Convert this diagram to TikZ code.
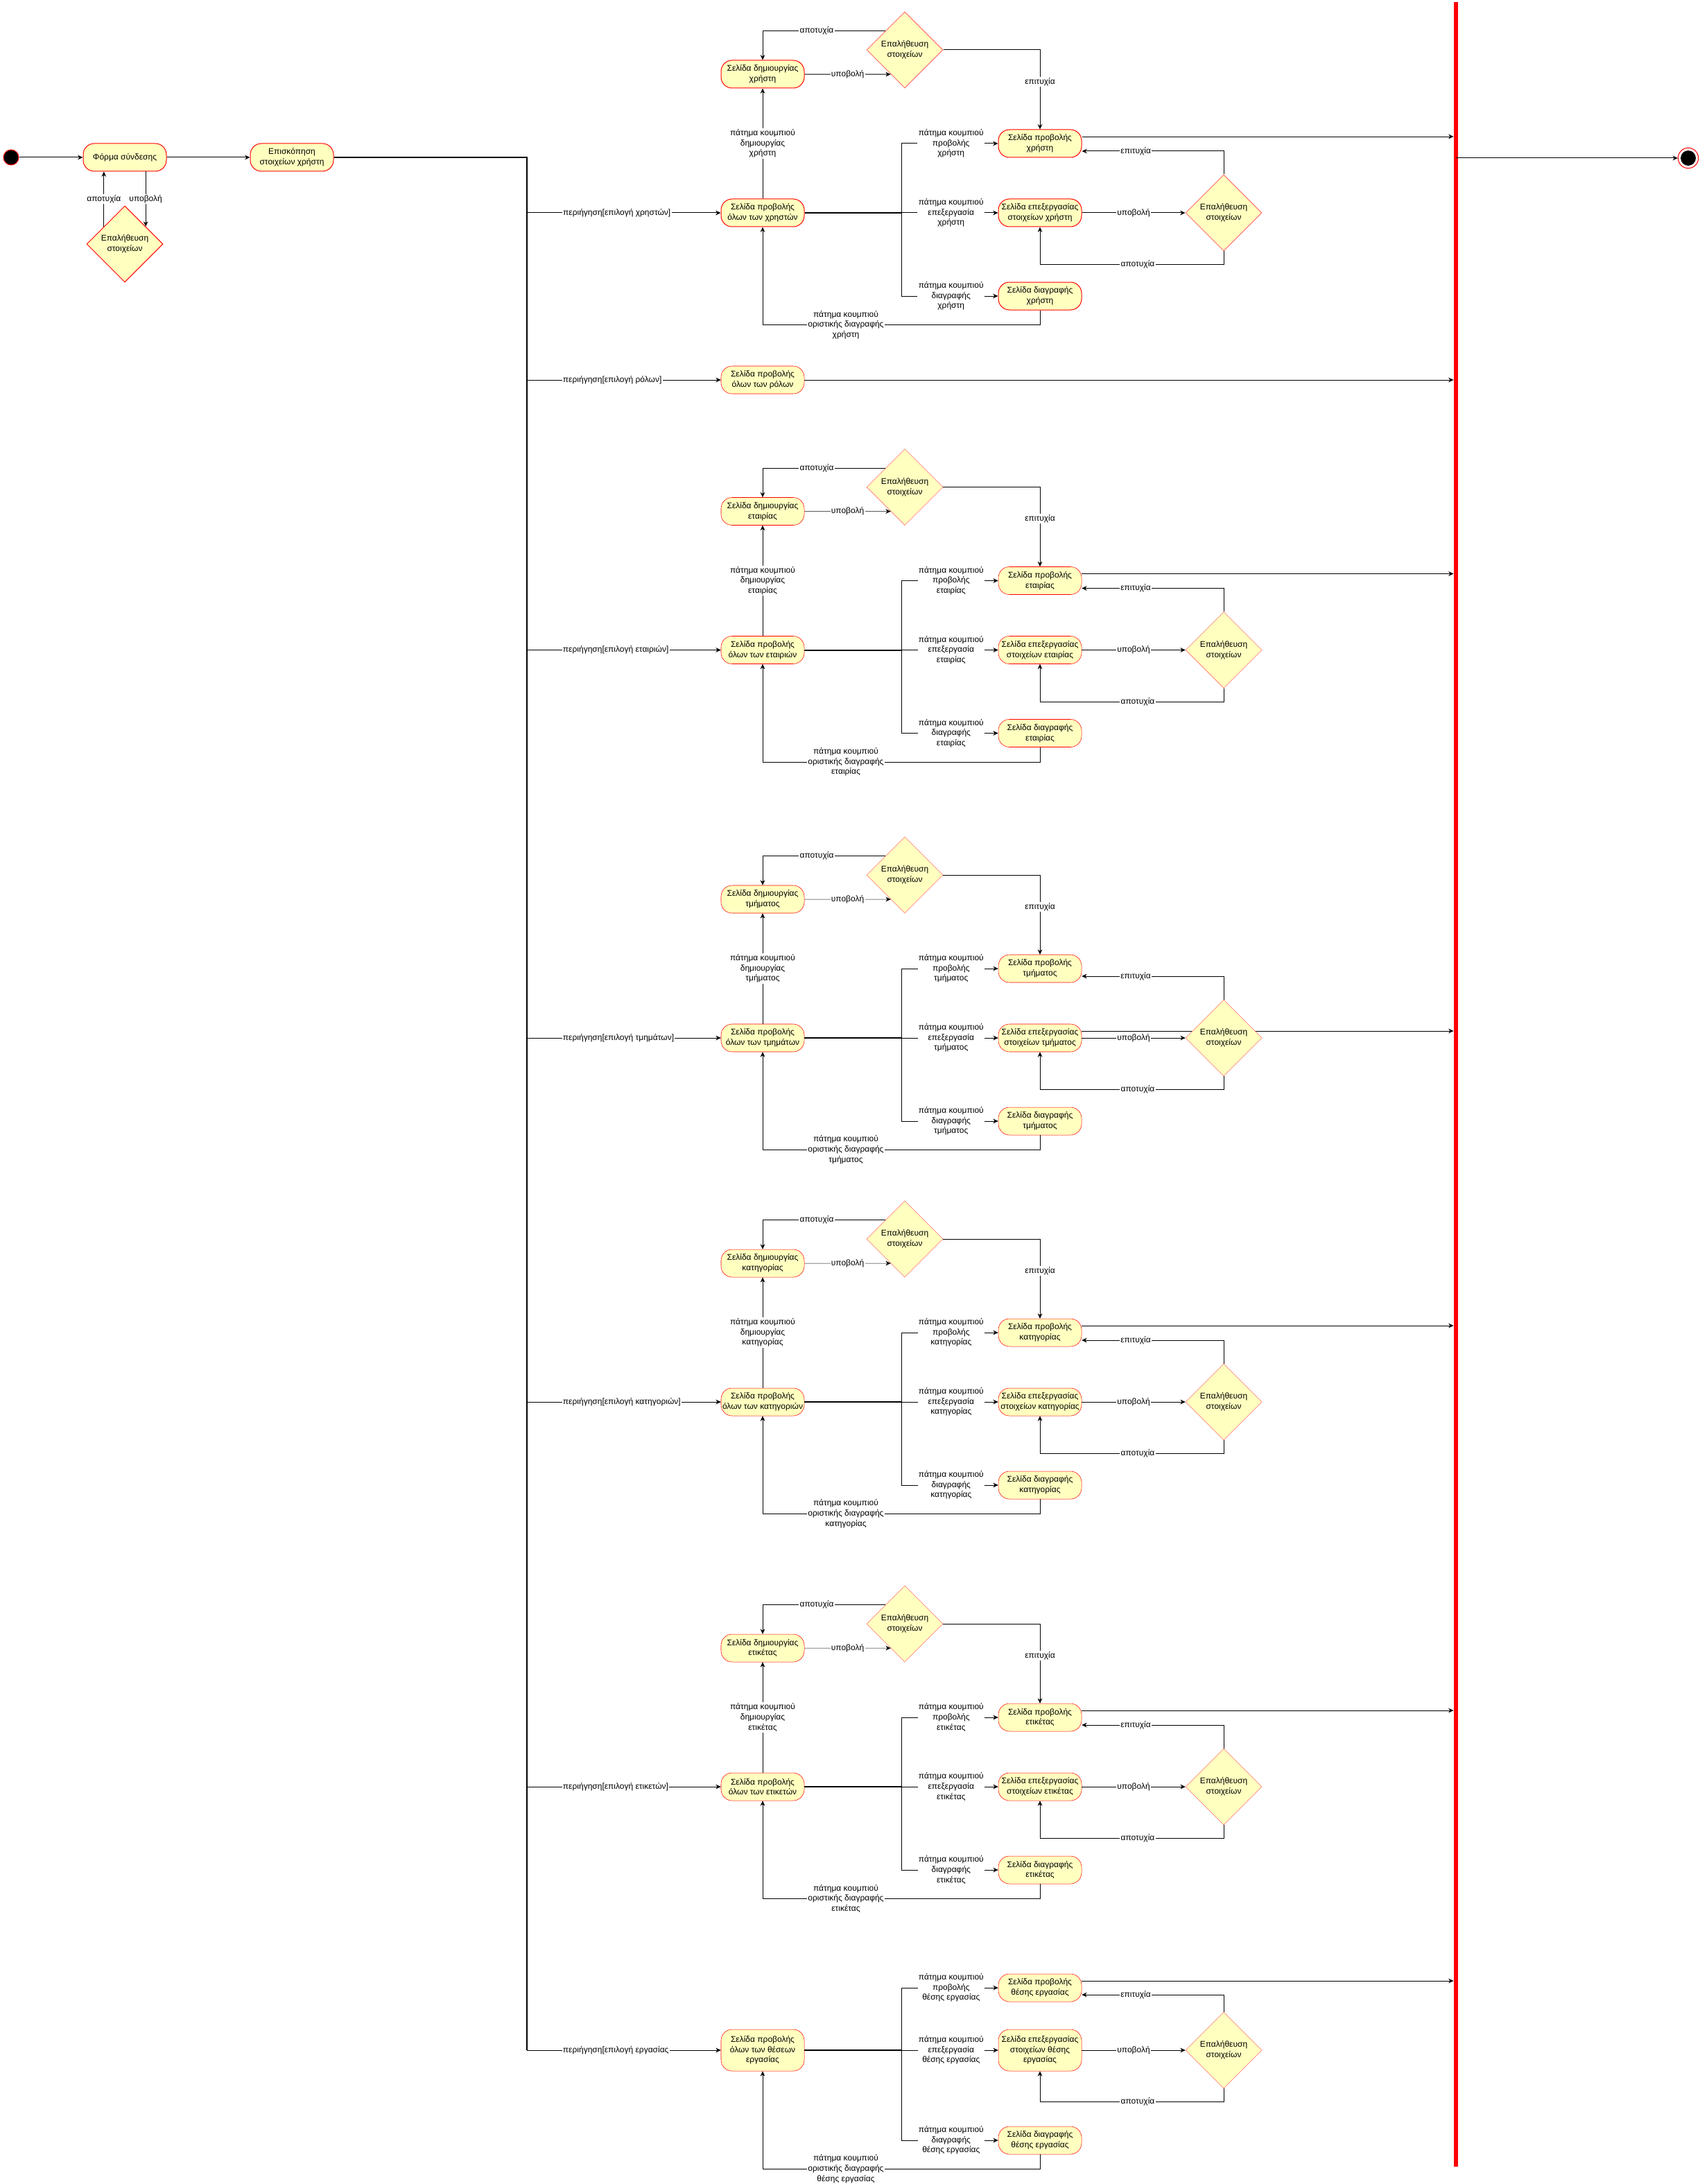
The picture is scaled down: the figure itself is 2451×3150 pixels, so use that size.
\documentclass[tikz,border=0pt]{standalone}
\usepackage{fontspec}
\setmainfont{Liberation Sans}
\usetikzlibrary{positioning,shapes.geometric,arrows.meta,backgrounds}

\definecolor{pagefill}{HTML}{FFFFC0}
\definecolor{verifyline}{HTML}{FF6F6F}

\tikzset{
  pagebox/.style={draw=red, fill=pagefill, rounded corners=12pt, minimum width=90pt,
    minimum height=30pt, inner sep=1pt, align=center},
  tall/.style={minimum height=45pt},
  verify/.style={diamond, aspect=1, draw=verifyline, fill=pagefill, minimum size=82.5pt,
    inner sep=0pt, align=center},
  edgelbl/.style={fill=white, inner sep=1pt, align=center},
  syncbar/.style={fill=red, minimum width=4.5pt, minimum height=2341.5pt, inner sep=0pt},
  trunkline/.style={line width=1.5pt},
}

\begin{document}
\begin{tikzpicture}[x=0.75pt, y=-0.75pt, line width=0.75pt, font=\fontsize{9}{11}\selectfont,
    >={Stealth[length=5.5pt,width=5pt]}]
  \useasboundingbox (0,0) rectangle (2451,3150);

  % login
  \node[circle, fill=black, draw=red, minimum size=16.5pt, inner sep=0pt] (start) at (16,227) {};
  \node[pagebox] (login) at (180,227) {Φόρμα σύνδεσης};
  \node[verify, draw=red] (logincheck) at (180,352) {Επαλήθευση\\στοιχείων};
  \node[pagebox] (overview) at (421,227) {Επισκόπηση\\στοιχείων χρήστη};
  \coordinate (trunk) at (760,227);

  \draw[->] (start) -- (login);
  \draw[->] (logincheck.40 |- login.south) -- node[edgelbl]{υποβολή} (logincheck.40);
  \draw[->] (logincheck.140) -- node[edgelbl]{αποτυχία} (logincheck.140 |- login.south);
  \draw[->] (login) -- (overview);

  % end
  \node[syncbar] (bar) at (2100,1564) {};
  \node[circle, draw=red, fill=white, minimum size=22pt, inner sep=0pt,
    path picture={\fill[black] (path picture bounding box.center) circle (8.2pt);}] (finish) at (2435,228) {};
  \draw[->] (bar.center |- finish) -- (finish);

  % sections with create page
  \foreach \s/\A/\X/\P/\B in {u/307/χρήστη/χρηστών/view, c/937.5/εταιρίας/εταιριών/view,
      d/1497/τμήματος/τμημάτων/edit, k/2022/κατηγορίας/κατηγοριών/view,
      t/2577/ετικέτας/ετικετών/view}{
    \node[pagebox] (\s-all) at (1100,\A) {Σελίδα προβολής\\όλων των \P};
    \node[pagebox] (\s-create) at (1100,{\A-200}) {Σελίδα δημιουργίας\\\X};
    \node[verify] (\s-check) at (1305,{\A-235}) {Επαλήθευση\\στοιχείων};
    \coordinate (\s-fork) at (1300,\A);
    \node[pagebox] (\s-view) at (1500,{\A-100}) {Σελίδα προβολής\\\X};
    \node[pagebox] (\s-edit) at (1500,\A) {Σελίδα επεξεργασίας\\στοιχείων \X};
    \node[pagebox] (\s-del) at (1500,{\A+120}) {Σελίδα διαγραφής\\\X};
    \node[verify] (\s-editcheck) at (1765,\A) {Επαλήθευση\\στοιχείων};

    \draw[->] (overview) -- (trunk) |- node[edgelbl, pos=0.59, anchor=west]{περιήγηση[επιλογή \P]} (\s-all);
    \draw[->] (\s-all) -- node[edgelbl]{πάτημα κουμπιού\\δημιουργίας\\\X} (\s-create);
    \draw[->] (\s-create) -- node[edgelbl]{υποβολή} (\s-check.240);
    \draw[->] (\s-check.north west) -| node[edgelbl, pos=0.28]{αποτυχία} (\s-create);
    \draw[->] (\s-check.east) -| node[edgelbl, pos=0.7]{επιτυχία} (\s-view);

    \draw[trunkline] (\s-all.east) -- (\s-fork);
    \draw[->] (\s-all) -- (\s-fork) |- node[edgelbl, pos=0.757]{πάτημα κουμπιού\\προβολής\\\X} (\s-view);
    \draw[->] (\s-all) -- node[edgelbl, pos=0.757]{πάτημα κουμπιού\\επεξεργασία\\\X} (\s-edit);
    \draw[->] (\s-all) -- (\s-fork) |- node[edgelbl, pos=0.757]{πάτημα κουμπιού\\διαγραφής\\\X} (\s-del);
    \draw[->] (\s-del.south) -- ++(0,21) -| node[edgelbl, pos=0.35]{πάτημα κουμπιού\\οριστικής διαγραφής\\\X} (\s-all);

    \draw[->] (\s-edit) -- node[edgelbl]{υποβολή} (\s-editcheck);
    \draw[->] (\s-editcheck.north) |- node[edgelbl, pos=0.81]{επιτυχία} ([yshift=-8.25pt]\s-view.east);
    \draw[->] (\s-editcheck.south) -- ++(0,19) -| node[edgelbl, pos=0.234]{αποτυχία} (\s-edit.south);

    \begin{pgfonlayer}{background}
      \draw[->] ([yshift=7.5pt]\s-\B.east) -- ([yshift=7.5pt]\s-\B.east -| bar.west);
    \end{pgfonlayer}
  }

  % roles
  \node[pagebox] (r-all) at (1100,548) {Σελίδα προβολής\\όλων των ρόλων};
  \draw[->] (overview) -- (trunk) |- node[edgelbl, pos=0.59, anchor=west]{περιήγηση[επιλογή ρόλων]} (r-all);
  \draw[->] (r-all) -- (r-all -| bar.west);

  % job positions
  \node[pagebox, tall] (j-all) at (1100,2957) {Σελίδα προβολής\\όλων των θέσεων\\εργασίας};
  \coordinate (j-fork) at (1300,2957);
  \node[pagebox] (j-view) at (1500,2867) {Σελίδα προβολής\\θέσης εργασίας};
  \node[pagebox, tall] (j-edit) at (1500,2957) {Σελίδα επεξεργασίας\\στοιχείων θέσης\\εργασίας};
  \node[pagebox] (j-del) at (1500,3087) {Σελίδα διαγραφής\\θέσης εργασίας};
  \node[verify] (j-editcheck) at (1765,2957) {Επαλήθευση\\στοιχείων};

  \draw[->] (overview) -- (trunk) |- node[edgelbl, pos=0.59, anchor=west]{περιήγηση[επιλογή εργασίας} (j-all);
  \draw[trunkline] (overview.east) -- (trunk) -- (trunk |- j-all);
  \draw[trunkline] (j-all.east) -- (j-fork);
  \draw[->] (j-all) -- (j-fork) |- node[edgelbl, pos=0.757]{πάτημα κουμπιού\\προβολής\\θέσης εργασίας} (j-view);
  \draw[->] (j-all) -- node[edgelbl, pos=0.757]{πάτημα κουμπιού\\επεξεργασία\\θέσης εργασίας} (j-edit);
  \draw[->] (j-all) -- (j-fork) |- node[edgelbl, pos=0.757]{πάτημα κουμπιού\\διαγραφής\\θέσης εργασίας} (j-del);
  \draw[->] (j-del.south) -- ++(0,21) -| node[edgelbl, pos=0.35]{πάτημα κουμπιού\\οριστικής διαγραφής\\θέσης εργασίας} (j-all);
  \draw[->] (j-edit) -- node[edgelbl]{υποβολή} (j-editcheck);
  \draw[->] (j-editcheck.north) |- node[edgelbl, pos=0.81]{επιτυχία} ([yshift=-7.5pt]j-view.east);
  \draw[->] (j-editcheck.south) -- ++(0,19) -| node[edgelbl, pos=0.234]{αποτυχία} (j-edit.south);
  \draw[->] ([yshift=7.5pt]j-view.east) -- ([yshift=7.5pt]j-view.east -| bar.west);
\end{tikzpicture}
\end{document}
